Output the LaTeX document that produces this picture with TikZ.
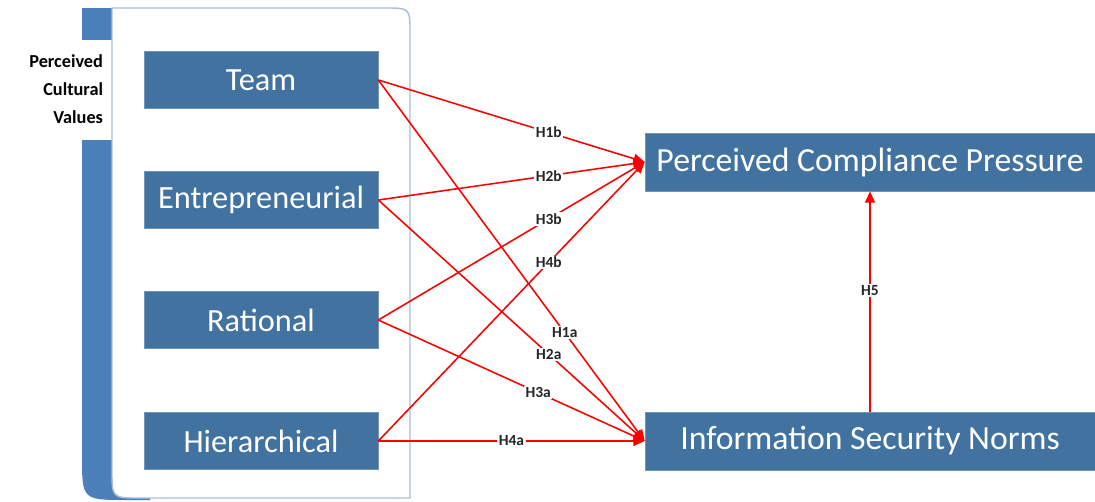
\documentclass[tikz,border=0pt]{standalone}
\usepackage{fontspec}
\setmainfont{Carlito}
\usetikzlibrary{arrows.meta}
\definecolor{boxblue}{RGB}{65,114,160}
\definecolor{barblue}{RGB}{76,128,187}
\definecolor{edgeblue}{RGB}{170,190,218}
\definecolor{hred}{RGB}{250,0,0}

\begin{document}
\begin{tikzpicture}[x=0.025cm,y=-0.025cm,
  cv/.style={fill=boxblue,draw=boxblue!75!white,text=white,inner sep=0pt,
    minimum width=5.85cm,minimum height=1.43cm,font=\fontsize{23}{27}\selectfont},
  dv/.style={cv,minimum width=11.25cm,minimum height=1.45cm,font=\fontsize{24}{28}\selectfont},
  hyp/.style={draw=hred,line width=1.1pt,-{Triangle[length=8pt,width=7pt]}},
  hl/.style={fill=white,inner sep=1pt,text=black!85,font=\fontsize{11}{13}\bfseries\selectfont}]
  \useasboundingbox (0,0) rectangle (1095,501);

  \fill[barblue] (82,8) -- (150,8) -- (150,500) -- (127,500)
    .. controls (82,500) .. (82,455) -- cycle;
  \fill[white] (80,40) rectangle (112,140);
  \filldraw[fill=white,draw=edgeblue,line width=1pt] (112,8) -- (385,8)
    .. controls (410,8) .. (410,33) -- (410,498) -- (140,498)
    .. controls (112,498) .. (112,470) -- cycle;
  \node (pcv) [anchor=east,align=right,font=\fontsize{13}{20}\bfseries\selectfont]
    at (108,89) {Perceived\\Cultural\\Values};

  \node (tm) [cv] at (261,80) {Team};
  \node (en) [cv] at (261,200) {Entrepreneurial};
  \node (ra) [cv] at (261,320) {Rational};
  \node (hi) [cv] at (261,441) {Hierarchical};
  \node (pcp) [dv] at (870,162) {Perceived Compliance Pressure};
  \node (isn) [dv] at (870,441) {Information Security Norms};

  \draw[hyp] (tm.east) -- (pcp.west) node [hl,pos=.64] {H1b};
  \draw[hyp] (en.east) -- (pcp.west) node [hl,pos=.64] {H2b};
  \draw[hyp] (ra.east) -- (pcp.west) node [hl,pos=.64] {H3b};
  \draw[hyp] (hi.east) -- (pcp.west) node [hl,pos=.64] {H4b};
  \draw[hyp] (tm.east) -- (isn.west) node [hl,pos=.70] {H1a};
  \draw[hyp] (en.east) -- (isn.west) node [hl,pos=.64] {H2a};
  \draw[hyp] (ra.east) -- (isn.west) node [hl,pos=.60] {H3a};
  \draw[hyp] (hi.east) -- (isn.west) node [hl,pos=.50] {H4a};
  \draw[hyp] (isn.north) -- (pcp.south) node [hl,pos=.55] {H5};
\end{tikzpicture}
\end{document}
